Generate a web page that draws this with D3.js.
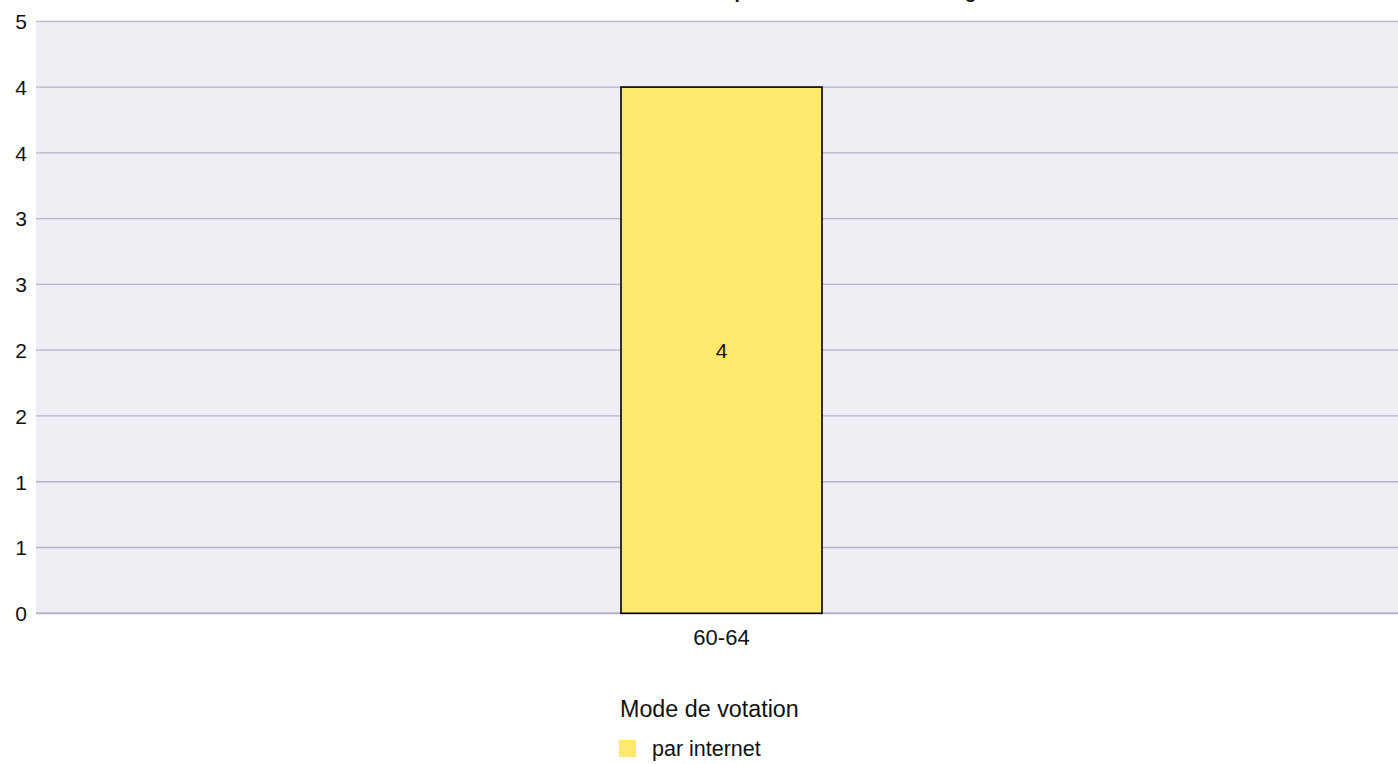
<!DOCTYPE html>
<html>
<head>
<meta charset="utf-8">
<script src="https://cdn.jsdelivr.net/npm/d3@7"></script>
<style>
  html, body { margin: 0; padding: 0; background: #ffffff; overflow: hidden; }
  svg { display: block; font-family: "Liberation Sans", Arial, sans-serif; }
</style>
</head>
<body>
<svg id="chart" width="1398" height="764"></svg>
<script>
// ---- data ----
const categories = ["60-64"];
const seriesName = "par internet";
const seriesValues = [4];
const yTickValues = [0, 0.5, 1, 1.5, 2, 2.5, 3, 3.5, 4, 4.5];
const yTickLabels = ["0", "1", "1", "2", "2", "3", "3", "4", "4", "5"];
const titleText = "Votants par mode de votation et âge";
const legendTitle = "Mode de votation";

// ---- layout ----
const svg = d3.select("#chart");
const margin = { left: 36, top: 21.3, bottom: 613.3 };
const plotRight = 1407;

const x = d3.scaleBand()
  .domain(categories)
  .range([margin.left, plotRight])
  .paddingInner(0)
  .paddingOuter(2.91);

const y = d3.scaleLinear()
  .domain([0, 4.5])
  .range([margin.bottom, margin.top]);

// title (mostly clipped above the viewport, as in the reference)
const title = svg.append("text")
  .attr("y", -2.5)
  .attr("font-size", 19)
  .attr("font-weight", "bold")
  .attr("fill", "#111")
  .text(titleText);
const tmp = svg.append("text").attr("font-size", 19).attr("font-weight", "bold").text("Votants\u00a0");
const prefixW = tmp.node().getComputedTextLength();
tmp.remove();
title.attr("x", 734.5 - prefixW);

// plot background
svg.append("rect")
  .attr("x", margin.left)
  .attr("y", y(4.5))
  .attr("width", plotRight - margin.left)
  .attr("height", y(0) - y(4.5))
  .attr("fill", "#efeef4");

// gridlines
svg.append("g")
  .selectAll("line")
  .data(yTickValues)
  .join("line")
  .attr("x1", margin.left)
  .attr("x2", plotRight)
  .attr("y1", d => y(d))
  .attr("y2", d => y(d))
  .attr("stroke", "#b5b4cb")
  .attr("stroke-width", d => d === 0 ? 2 : 1.3);

// y axis labels
const yAxis = d3.axisLeft(y)
  .tickValues(yTickValues)
  .tickFormat((d, i) => yTickLabels[i])
  .tickSize(0)
  .tickPadding(9);
const gy = svg.append("g")
  .attr("transform", `translate(${margin.left},0)`)
  .call(yAxis);
gy.select(".domain").remove();
gy.selectAll("text")
  .attr("font-size", 21)
  .attr("font-family", "Liberation Sans, Arial, sans-serif")
  .attr("fill", "#111")
  .attr("dy", "0.35em");

// bars
svg.append("g")
  .selectAll("rect")
  .data(categories.map((c, i) => ({ c, v: seriesValues[i] })))
  .join("rect")
  .attr("x", d => x(d.c))
  .attr("y", d => y(d.v))
  .attr("width", x.bandwidth())
  .attr("height", d => y(0) - y(d.v))
  .attr("fill", "#fee96d")
  .attr("stroke", "#000")
  .attr("stroke-width", 1.6);

// bar value labels
svg.append("g")
  .selectAll("text")
  .data(categories.map((c, i) => ({ c, v: seriesValues[i] })))
  .join("text")
  .attr("x", d => x(d.c) + x.bandwidth() / 2)
  .attr("y", d => (y(d.v) + y(0)) / 2)
  .attr("dy", "0.35em")
  .attr("text-anchor", "middle")
  .attr("font-size", 21)
  .attr("fill", "#111")
  .text(d => d.v);

// x axis labels
const xAxis = d3.axisBottom(x).tickSize(0).tickPadding(16);
const gx = svg.append("g")
  .attr("transform", `translate(0,${margin.bottom})`)
  .call(xAxis);
gx.select(".domain").remove();
gx.selectAll("text")
  .attr("font-size", 22)
  .attr("font-family", "Liberation Sans, Arial, sans-serif")
  .attr("fill", "#111");

// legend
svg.append("text")
  .attr("x", 620)
  .attr("y", 717)
  .attr("font-size", 23.3)
  .attr("fill", "#111")
  .text(legendTitle);
svg.append("rect")
  .attr("x", 619)
  .attr("y", 740)
  .attr("width", 17)
  .attr("height", 17)
  .attr("fill", "#fee96d");
svg.append("text")
  .attr("x", 652)
  .attr("y", 756)
  .attr("font-size", 21.5)
  .attr("fill", "#111")
  .text(seriesName);
</script>
</body>
</html>
